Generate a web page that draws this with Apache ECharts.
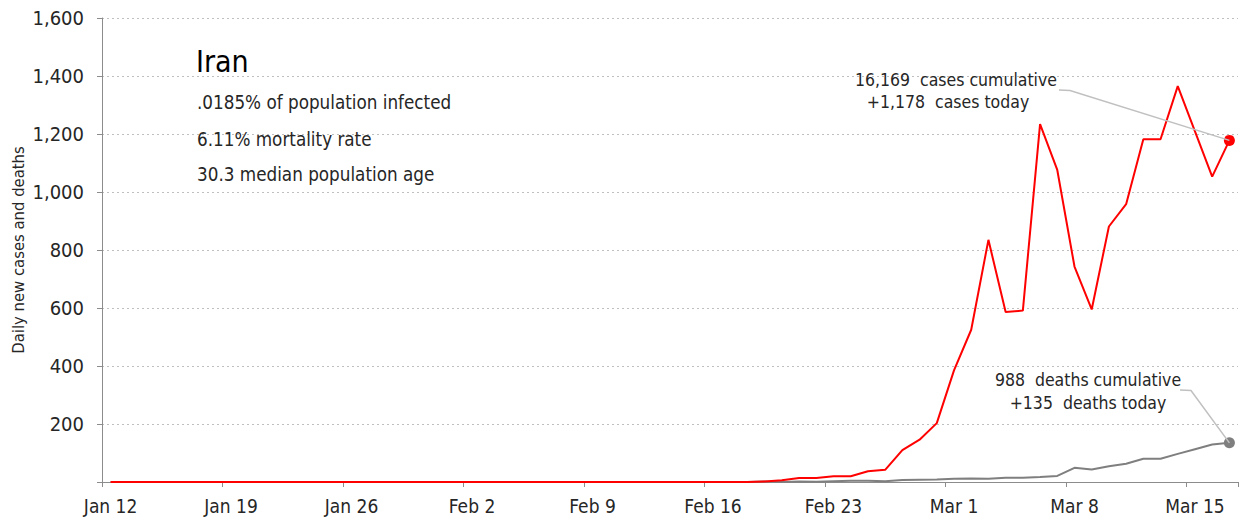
<!DOCTYPE html>
<html>
<head>
<meta charset="utf-8">
<script src="https://cdn.jsdelivr.net/npm/echarts@6/dist/echarts.min.js"></script>
<style>
html,body{margin:0;padding:0;background:#fff;}
#chart{width:1246px;height:523px;}
</style>
</head>
<body>
<div id="chart"></div>
<script>
// ---- data ----
const categories = [
  'Jan 12','Jan 13','Jan 14','Jan 15','Jan 16','Jan 17','Jan 18','Jan 19','Jan 20','Jan 21',
  'Jan 22','Jan 23','Jan 24','Jan 25','Jan 26','Jan 27','Jan 28','Jan 29','Jan 30','Jan 31',
  'Feb 1','Feb 2','Feb 3','Feb 4','Feb 5','Feb 6','Feb 7','Feb 8','Feb 9','Feb 10',
  'Feb 11','Feb 12','Feb 13','Feb 14','Feb 15','Feb 16','Feb 17','Feb 18','Feb 19','Feb 20',
  'Feb 21','Feb 22','Feb 23','Feb 24','Feb 25','Feb 26','Feb 27','Feb 28','Feb 29',
  'Mar 1','Mar 2','Mar 3','Mar 4','Mar 5','Mar 6','Mar 7','Mar 8','Mar 9','Mar 10',
  'Mar 11','Mar 12','Mar 13','Mar 14','Mar 15','Mar 16','Mar 17'
];
const newCases = [
  0,0,0,0,0,0,0,0,0,0,
  0,0,0,0,0,0,0,0,0,0,
  0,0,0,0,0,0,0,0,0,0,
  0,0,0,0,0,0,0,0,2,6,
  14,14,20,20,37,42,110,146,203,
  385,525,835,586,591,1234,1076,743,595,881,
  958,1182,1182,1365,1209,1053,1178
];
const newDeaths = [
  0,0,0,0,0,0,0,0,0,0,
  0,0,0,0,0,0,0,0,0,0,
  0,0,0,0,0,0,0,0,0,0,
  0,0,0,0,0,0,0,0,2,0,
  2,1,3,4,4,3,7,8,9,
  11,12,11,15,15,17,21,49,43,54,
  63,80,80,97,113,129,135
];
const yMin = 0, yMax = 1600, yStep = 200;
const yAxisName = 'Daily new cases and deaths';
const titleText = 'Iran';
const infoLines = ['.0185% of population infected', '6.11% mortality rate', '30.3 median population age'];
const casesNote = ['16,169  cases cumulative', '+1,178  cases today'];
const deathsNote = ['988  deaths cumulative', '+135  deaths today'];

// ---- styles ----
const FONT = "'DejaVu Sans Condensed', 'Liberation Sans Narrow', sans-serif";
const TXT = '#262626';
const AXIS = '#8c8c8c';
const RED = '#ff0000';
const GRAY = '#7f7f7f';
const LEADER = '#c0c0c0';

const last = newCases.length - 1;
function withEndDot(arr, color) {
  return arr.map((v, i) => i === last
    ? { value: v, symbol: 'circle', symbolSize: 11, itemStyle: { color: color } }
    : v);
}

const chart = echarts.init(document.getElementById('chart'), null, { renderer: 'svg' });
const option = {
  animation: false,
  backgroundColor: '#fff',
  textStyle: { fontFamily: FONT },
  grid: { left: 102, right: 8, top: 18, bottom: 41, containLabel: false, outerBoundsMode: 'none' },
  xAxis: {
    type: 'category',
    data: categories,
    boundaryGap: true,
    axisLine: { lineStyle: { color: AXIS, width: 1 } },
    axisTick: { show: true, interval: 6, length: 5, lineStyle: { color: AXIS } },
    axisLabel: { interval: 6, color: TXT, fontSize: 19, fontFamily: FONT, margin: 14 },
    splitLine: { show: false }
  },
  yAxis: {
    type: 'value',
    min: yMin, max: yMax, interval: yStep,
    name: yAxisName,
    nameLocation: 'middle',
    nameGap: 75,
    nameRotate: 90,
    nameMoveOverlap: false,
    nameTextStyle: { color: TXT, fontSize: 16.5, fontFamily: FONT },
    axisLine: { show: true, lineStyle: { color: AXIS, width: 1 } },
    axisTick: { show: true, length: 5, lineStyle: { color: AXIS } },
    axisLabel: {
      color: TXT, fontSize: 20, fontFamily: FONT, margin: 18,
      formatter: v => v === 0 ? '' : v.toLocaleString('en-US')
    },
    splitLine: { show: true, lineStyle: { color: '#bfbfbf', width: 1, type: [2, 3] } }
  },
  series: [
    {
      name: 'Deaths', type: 'line', data: withEndDot(newDeaths, GRAY),
      symbol: 'none', showSymbol: true, z: 2,
      lineStyle: { color: GRAY, width: 2 }, itemStyle: { color: GRAY }
    },
    {
      name: 'Cases', type: 'line', data: withEndDot(newCases, RED),
      symbol: 'none', showSymbol: true, z: 3,
      lineStyle: { color: RED, width: 2 }, itemStyle: { color: RED }
    }
  ]
};
chart.setOption(option);

// annotations anchored to the data through the library's scales
const pCase = chart.convertToPixel({ seriesIndex: 1 }, [last, newCases[last]]);
const pDeath = chart.convertToPixel({ seriesIndex: 0 }, [last, newDeaths[last]]);

function txt(text, x, y, size, align, fill) {
  return { type: 'text', x: x, y: y, z: 10,
    style: { text: text, fontSize: size, fontFamily: FONT, fill: fill || TXT,
             align: align, verticalAlign: 'middle' } };
}
const graphics = [
  txt(titleText, 196, 61, 30, 'left', '#000'),
  txt(infoLines[0], 197, 102, 18.7, 'left'),
  txt(infoLines[1], 197, 139, 18.7, 'left'),
  txt(infoLines[2], 197, 174, 18.7, 'left'),

  txt(casesNote[0], 956, 80, 17.5, 'center'),
  txt(casesNote[1], 948, 102, 17.5, 'center'),
  { type: 'polyline', z: 5,
    shape: { points: [[1059, 90], [1070, 90.5], pCase] },
    style: { stroke: LEADER, lineWidth: 1.5, fill: null } },

  txt(deathsNote[0], 1088, 380, 17.5, 'center'),
  txt(deathsNote[1], 1088, 403, 17.5, 'center'),
  { type: 'polyline', z: 5,
    shape: { points: [[1180, 390], [1191, 390.5], pDeath] },
    style: { stroke: LEADER, lineWidth: 1.5, fill: null } }
];
chart.setOption({ graphic: graphics });
</script>
</body>
</html>
